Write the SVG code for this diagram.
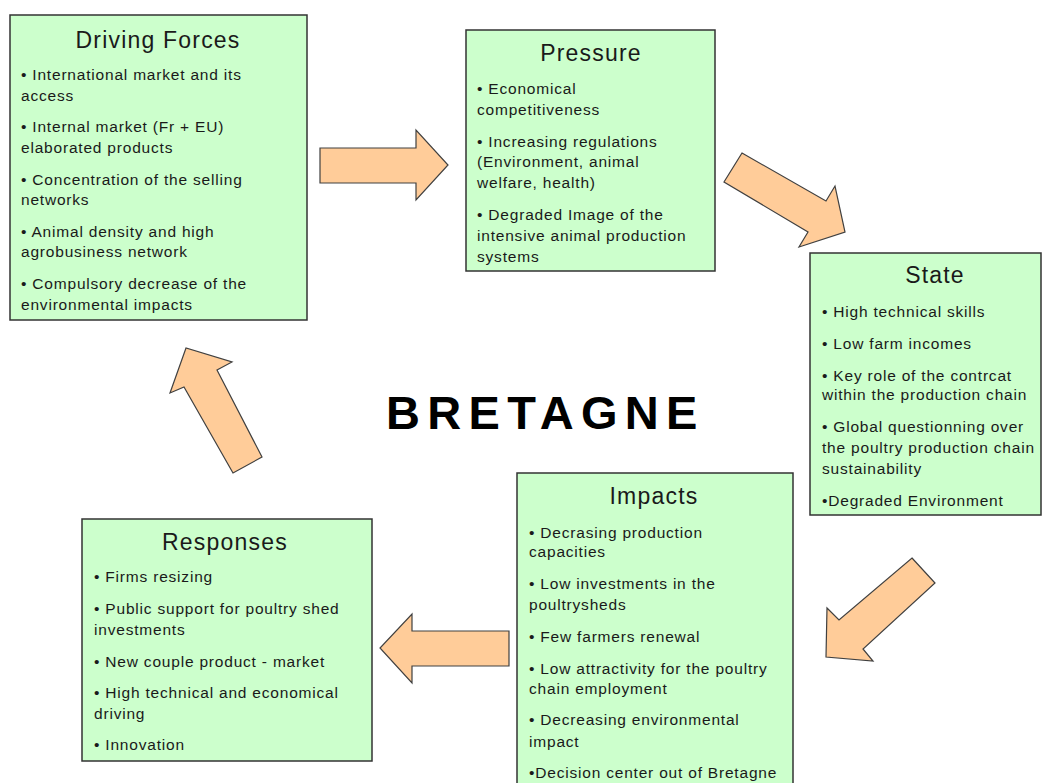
<svg xmlns="http://www.w3.org/2000/svg" width="1047" height="783" viewBox="0 0 1047 783">
<style>
.box{fill:#CCFFCC;stroke:#333333;stroke-width:1.5}
.arr{fill:#FFCC99;stroke:#404040;stroke-width:1.2;stroke-linejoin:miter}
.t{font-family:"Liberation Sans",Arial,sans-serif;font-size:23px;fill:#1a1a1a;letter-spacing:1.2px;text-anchor:middle}
.b{font-family:"Liberation Sans",Arial,sans-serif;font-size:15.5px;fill:#1a1a1a;letter-spacing:0.8px}
.big{font-family:"Liberation Sans",Arial,sans-serif;font-size:47px;font-weight:bold;fill:#000;letter-spacing:7.3px}
</style>
<rect width="1047" height="783" fill="#ffffff"/>
<g id="connectors">
<polygon class="arr" points="320,148 416,148 416,130 448,165 416,200 416,183 320,183"/>
<polygon class="arr" points="742,153 826,201 835,186 845,232 799,247 808,232 724,182"/>
<polygon class="arr" points="912,558 935,583 863,649 873,661 826,657 827,608 839,620"/>
<polygon class="arr" points="509,631 412,631 412,614 380,648 412,683 412,666 509,666"/>
<polygon class="arr" points="262,457 217,370 232,362 186,348 170,393 184,387 233,473"/>
</g>
<g id="driving-forces">
<rect class="box" x="10" y="15" width="297" height="305"/>
<text class="t" x="158" y="48">Driving Forces</text>
<text class="b" x="21" y="80">• International market and its</text>
<text class="b" x="21" y="101">access</text>
<text class="b" x="21" y="132">• Internal market (Fr + EU)</text>
<text class="b" x="21" y="153">elaborated products</text>
<text class="b" x="21" y="185">• Concentration of the selling</text>
<text class="b" x="21" y="205">networks</text>
<text class="b" x="21" y="237">• Animal density and high</text>
<text class="b" x="21" y="257">agrobusiness network</text>
<text class="b" x="21" y="289">• Compulsory decrease of the</text>
<text class="b" x="21" y="310">environmental impacts</text>
</g>
<g id="pressure">
<rect class="box" x="466" y="30" width="249" height="241"/>
<text class="t" x="591" y="61">Pressure</text>
<text class="b" x="477" y="94">• Economical</text>
<text class="b" x="477" y="115">competitiveness</text>
<text class="b" x="477" y="147">•  Increasing regulations</text>
<text class="b" x="477" y="167">(Environment, animal</text>
<text class="b" x="477" y="188">welfare, health)</text>
<text class="b" x="477" y="220">• Degraded Image of the</text>
<text class="b" x="477" y="241">intensive animal production</text>
<text class="b" x="477" y="262">systems</text>
</g>
<g id="state">
<rect class="box" x="810" y="253" width="231" height="262"/>
<text class="t" x="935" y="283">State</text>
<text class="b" x="822" y="317">• High technical skills</text>
<text class="b" x="822" y="349">• Low farm incomes</text>
<text class="b" x="822" y="381">• Key role of the contrcat</text>
<text class="b" x="822" y="400">within the production chain</text>
<text class="b" x="822" y="432">• Global questionning over</text>
<text class="b" x="822" y="453">the poultry production chain</text>
<text class="b" x="822" y="474">sustainability</text>
<text class="b" x="822" y="506">•Degraded Environment</text>
</g>
<g id="impacts">
<rect class="box" x="517" y="473" width="276" height="320"/>
<text class="t" x="654" y="504">Impacts</text>
<text class="b" x="529" y="538">• Decrasing production</text>
<text class="b" x="529" y="557">capacities</text>
<text class="b" x="529" y="589">• Low investments in the</text>
<text class="b" x="529" y="610">poultrysheds</text>
<text class="b" x="529" y="642">• Few farmers renewal</text>
<text class="b" x="529" y="674">• Low attractivity for the poultry</text>
<text class="b" x="529" y="694">chain employment</text>
<text class="b" x="529" y="725">• Decreasing environmental</text>
<text class="b" x="529" y="747">impact</text>
<text class="b" x="529" y="778">•Decision center out of Bretagne</text>
</g>
<g id="responses">
<rect class="box" x="82" y="519" width="290" height="242"/>
<text class="t" x="225" y="550">Responses</text>
<text class="b" x="94" y="582">• Firms resizing</text>
<text class="b" x="94" y="614">• Public support for poultry shed</text>
<text class="b" x="94" y="635">investments</text>
<text class="b" x="94" y="667">• New couple product - market</text>
<text class="b" x="94" y="698">• High technical and economical</text>
<text class="b" x="94" y="719">driving</text>
<text class="b" x="94" y="750">• Innovation</text>
</g>
<g id="title">
<text class="big" x="386" y="429">BRETAGNE</text>
</g>
</svg>
